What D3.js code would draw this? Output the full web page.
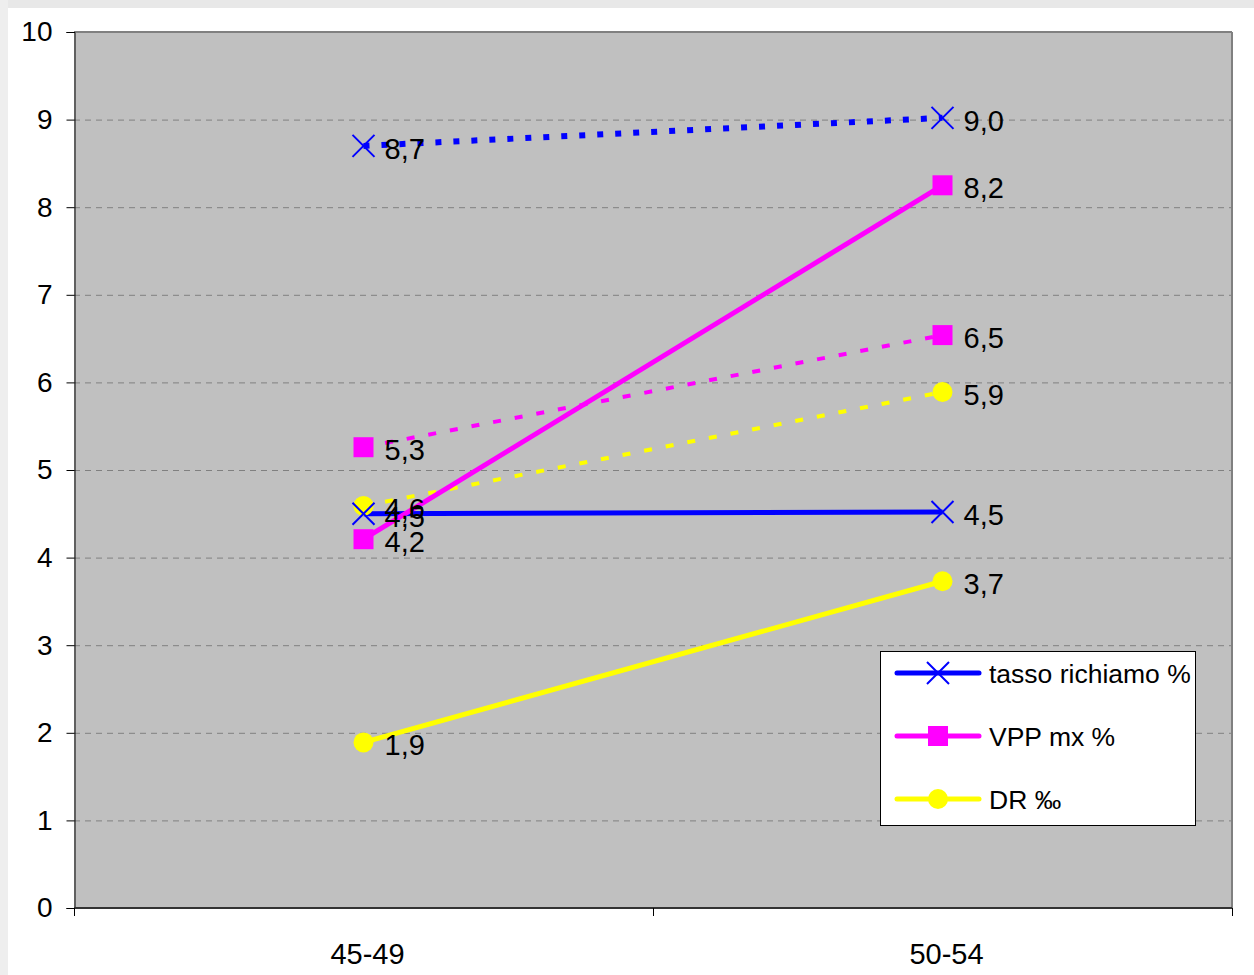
<!DOCTYPE html>
<html><head><meta charset="utf-8">
<script src="https://cdn.jsdelivr.net/npm/d3@7"></script>
<style>body{margin:0;background:#fff;} svg{display:block;font-family:"Liberation Sans",Arial,sans-serif;}</style>
</head><body>
<svg id="c" width="1254" height="975"></svg>
<script>
const categories = ["45-49", "50-54"];
const yTicks = [0,1,2,3,4,5,6,7,8,9,10];
const tassoSolid = [4.5, 4.52];
const vppSolid = [4.21, 8.25];
const drSolid = [1.89, 3.73];
const tassoDotted = [8.7, 9.02];
const vppDotted = [5.26, 6.54];
const drDotted = [4.59, 5.89];
const tassoLabels = ["4,5", "4,5"];
const vppLabels = ["4,2", "8,2"];
const drLabels = ["1,9", "3,7"];
const tassoDLabels = ["8,7", "9,0"];
const vppDLabels = ["5,3", "6,5"];
const drDLabels = ["4,6", "5,9"];
const legendNames = ["tasso richiamo %", "VPP mx %", "DR ‰"];

const svg = d3.select("#c");
svg.append("rect").attr("x",0).attr("y",0).attr("width",1254).attr("height",8).attr("fill","#e8e8e8");
svg.append("rect").attr("x",0).attr("y",0).attr("width",8).attr("height",975).attr("fill","#eeeeee");

const L=74, R=1232, T=32, B=908;
const x = d3.scaleBand().domain(categories).range([L,R]);
const cx = c => x(c) + x.bandwidth()/2;
const y = d3.scaleLinear().domain([0,10]).range([B,T]);

svg.append("rect").attr("x",L).attr("y",T).attr("width",R-L).attr("height",B-T).attr("fill","#c0c0c0");
// grid
svg.append("g").selectAll("line").data(yTicks.filter(d=>d>0&&d<10)).join("line")
  .attr("x1",L).attr("x2",R).attr("y1",d=>y(d)+0.5).attr("y2",d=>y(d)+0.5)
  .attr("stroke","#808080").attr("stroke-width",1).attr("stroke-dasharray","6,5");
// plot border top/right
svg.append("line").attr("x1",L).attr("x2",R).attr("y1",T).attr("y2",T).attr("stroke","#808080").attr("stroke-width",2);
svg.append("line").attr("x1",R).attr("x2",R).attr("y1",T).attr("y2",B).attr("stroke","#808080").attr("stroke-width",2);

// y axis
const yAxis = d3.axisLeft(y).tickValues(yTicks).tickSize(8).tickPadding(14).tickFormat(d3.format("d"));
const gy = svg.append("g").attr("transform",`translate(${L+0.5},0)`).call(yAxis);
gy.select(".domain").attr("stroke","#000");
gy.selectAll(".tick line").attr("stroke","#000");
gy.selectAll(".tick text").attr("font-size",28).attr("fill","#000").attr("font-family","Liberation Sans, Arial, sans-serif");

// x axis
const xTickPos = d3.scaleLinear().domain([0,2]).range([L,R]);
const gx = svg.append("g").attr("transform",`translate(0,${B})`);
gx.append("line").attr("x1",L).attr("x2",R).attr("y1",0).attr("y2",0).attr("stroke","#333").attr("stroke-width",2);
gx.selectAll("line.t").data([0,1,2]).join("line").attr("class","t")
  .attr("x1",d=>xTickPos(d)+0.5).attr("x2",d=>xTickPos(d)+0.5).attr("y1",0).attr("y2",8).attr("stroke","#000");
gx.selectAll("text").data(categories).join("text")
  .attr("x",d=>cx(d)+4).attr("y",56).attr("text-anchor","middle").attr("font-size",29).attr("fill","#000").text(d=>d);

const line = d3.line().x((d,i)=>cx(categories[i])).y(d=>y(d));

const series = [
  {vals: tassoDotted, labels: tassoDLabels, color:"#0000ff", w:6, dash:"6,12", marker:"x"},
  {vals: vppDotted, labels: vppDLabels, color:"#ff00ff", w:4, dash:"8,14", marker:"sq"},
  {vals: drDotted, labels: drDLabels, color:"#ffff00", w:4, dash:"8,14", marker:"ci"},
  {vals: tassoSolid, labels: tassoLabels, color:"#0000ff", w:5, dash:null, marker:"x"},
  {vals: vppSolid, labels: vppLabels, color:"#ff00ff", w:5, dash:null, marker:"sq"},
  {vals: drSolid, labels: drLabels, color:"#ffff00", w:5, dash:null, marker:"ci"},
];

function drawMarker(g, type, px, py, color){
  if(type==="x"){
    const s=11;
    g.append("path").attr("d",`M${px-s},${py-s}L${px+s},${py+s}M${px-s},${py+s}L${px+s},${py-s}`)
      .attr("stroke",color).attr("stroke-width",2).attr("fill","none");
  } else if(type==="sq"){
    g.append("rect").attr("x",px-10).attr("y",py-10).attr("width",20).attr("height",20).attr("fill",color);
  } else {
    g.append("circle").attr("cx",px).attr("cy",py).attr("r",10).attr("fill",color);
  }
}

const gLines = svg.append("g");
series.forEach(s=>{
  const p = gLines.append("path").attr("d",line(s.vals)).attr("fill","none")
    .attr("stroke",s.color).attr("stroke-width",s.w);
  if(s.dash) p.attr("stroke-dasharray",s.dash);
});
const gMarks = svg.append("g");
series.forEach(s=>{
  s.vals.forEach((v,i)=>drawMarker(gMarks, s.marker, cx(categories[i]), y(v), s.color));
});
const gLab = svg.append("g");
series.forEach(s=>{
  s.vals.forEach((v,i)=>{
    gLab.append("text").attr("x",cx(categories[i])+21).attr("y",y(v)+13)
      .attr("font-size",29).attr("fill","#000").text(s.labels[i]);
  });
});

// legend
const lg = svg.append("g");
lg.append("rect").attr("x",880.5).attr("y",651.5).attr("width",315).attr("height",174)
  .attr("fill","#fff").attr("stroke","#000").attr("stroke-width",1);
const legSeries = [series[3], series[4], series[5]];
const ly = d3.scalePoint().domain(legendNames).range([673,799]);
legSeries.forEach((s,i)=>{
  const yy = ly(legendNames[i]);
  lg.append("line").attr("x1",897).attr("x2",979).attr("y1",yy).attr("y2",yy)
    .attr("stroke",s.color).attr("stroke-width",5).attr("stroke-linecap","round");
  drawMarker(lg, s.marker, 938, yy, s.color);
  lg.append("text").attr("x",989).attr("y",yy+10).attr("font-size",26.5).attr("fill","#000").text(legendNames[i]);
});
</script>
</body></html>
